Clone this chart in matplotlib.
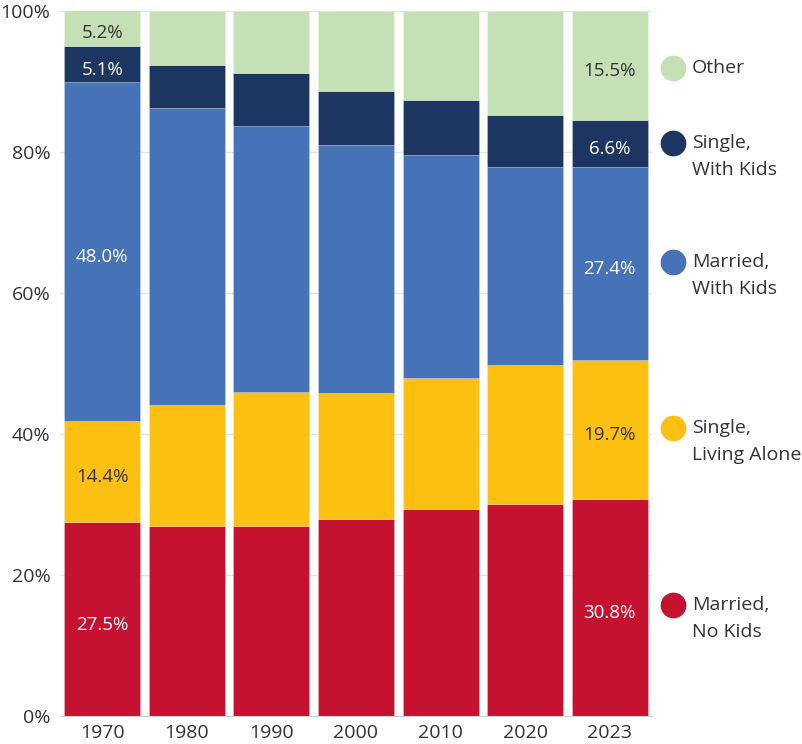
import numpy as np
import matplotlib
matplotlib.use("Agg")
import matplotlib.pyplot as plt

plt.rcParams['font.family'] = ['Open Sans', 'DejaVu Sans']

years = ["1970", "1980", "1990", "2000", "2010", "2020", "2023"]

# shares in %, bottom to top
married_no_kids = [27.5, 26.9, 26.9, 28.0, 29.3, 30.1, 30.8]
single_alone = [14.4, 17.2, 19.1, 17.8, 18.6, 19.7, 19.7]
married_kids = [48.0, 42.2, 37.7, 35.2, 31.7, 28.1, 27.4]
single_kids = [5.1, 6.0, 7.5, 7.7, 7.8, 7.4, 6.6]
other = [5.2, 7.7, 8.8, 11.3, 12.6, 14.7, 15.5]

series = [married_no_kids, single_alone, married_kids, single_kids, other]
names = [["Married,", "No Kids"], ["Single,", "Living Alone"],
         ["Married,", "With Kids"], ["Single,", "With Kids"], ["Other"]]
colors = ["#C41230", "#FBC012", "#4672B8", "#1C3661", "#C5E0B4"]
txtcol = ["white", "#333333", "white", "white", "#333333"]

fig = plt.figure(figsize=(8.03, 7.44), dpi=100)
ax = fig.add_axes([60/803, 28/744, 592/803, 705/744])

x = np.arange(len(years))
bottom = np.zeros(len(years))
for k, vals in enumerate(series):
    vals = np.array(vals)
    ax.bar(x, vals, width=0.9, bottom=bottom, color=colors[k], zorder=2,
           edgecolor=(1, 1, 1, 0.25), linewidth=0.6)
    # labels only for first and last year
    for i in [0, len(years) - 1]:
        ax.annotate(f"{vals[i]:.1f}%", (x[i], bottom[i] + vals[i] / 2),
                    xytext=(0, -2.5), textcoords="offset points",
                    ha="center", va="center_baseline", fontsize=13.5,
                    color=txtcol[k], zorder=3)
    bottom = bottom + vals

ax.set_xlim(-0.5, len(years) - 0.5)
ax.set_ylim(0, 100)
ax.set_yticks([0, 20, 40, 60, 80, 100])
ax.set_yticklabels(["0%", "20%", "40%", "60%", "80%", "100%"])
ax.set_xticks(x)
ax.set_xticklabels(years)
ax.tick_params(axis="both", length=0, labelsize=14, colors="#333333")
ax.tick_params(axis="y", pad=7)
ax.tick_params(axis="x", pad=6)
ax.grid(axis="y", color="#e3e3e3", linewidth=1, zorder=0)
for s in ["top", "right", "left"]:
    ax.spines[s].set_visible(False)
ax.spines["bottom"].set_color("#d0d0d0")

# legend on the right, top to bottom
leg_y = [605, 428, 262, 143, 68]  # pixel rows from top
for k in range(len(series)):
    yy = 1 - leg_y[k] / 744
    fig.add_artist(plt.Line2D([673/803], [yy], marker="o", markersize=17.5,
                              color=colors[k], linestyle="none",
                              transform=fig.transFigure))
    for j, line in enumerate(names[k]):
        fig.text(692/803, yy - j * 27/744, line, ha="left", va="center",
                 fontsize=14, color="#333333")

plt.savefig("out.png", dpi=100)
